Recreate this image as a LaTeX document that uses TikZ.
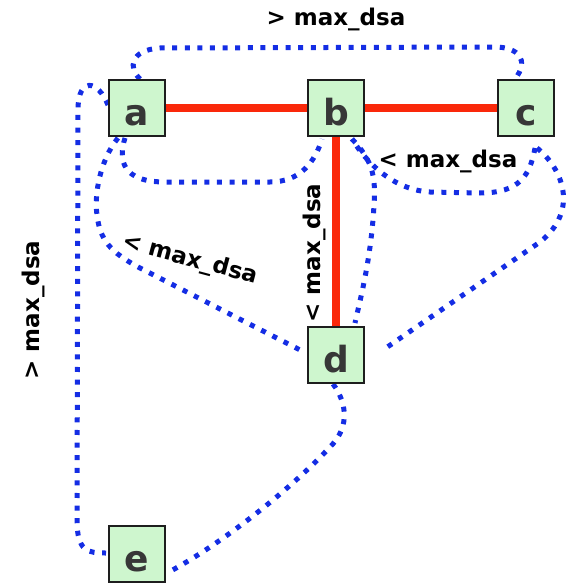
\documentclass[tikz,border=0pt]{standalone}
\usepackage{fontspec}
\setmainfont{DejaVu Sans}
\usetikzlibrary{calc}
\definecolor{boxfill}{RGB}{206,246,206}
\definecolor{boxline}{RGB}{30,30,30}
\definecolor{lettergray}{RGB}{55,55,55}
\definecolor{linkred}{RGB}{250,40,10}
\definecolor{dotblue}{RGB}{20,45,228}
\tikzset{
  vertex/.style={draw=boxline, line width=2.5pt, fill=boxfill, minimum size=56pt,
    inner sep=0pt, text height=34pt, text depth=0pt, text=lettergray,
    font=\fontsize{36}{36}\selectfont\bfseries},
  treeedge/.style={draw=linkred, line width=8pt},
  rangelink/.style={draw=dotblue, line width=5pt, line cap=butt,
    dash pattern=on 5pt off 7.6pt},
  dsalabel/.style={font=\fontsize{23}{23}\selectfont\bfseries, text=black, inner sep=0pt}
}
\begin{document}
\begin{tikzpicture}[x=1pt, y=-1pt]
\useasboundingbox (0,0) rectangle (567,583);

% stations
\coordinate (a) at (137,108);
\coordinate (b) at (336,108);
\coordinate (c) at (526,108);
\coordinate (d) at (336,355);
\coordinate (e) at (137,554);

% spanning tree edges
\path[treeedge] (a) -- (b) -- (c);
\path[treeedge] (b) -- (d);

% dotted range links
\path[rangelink] ($(a)+(3,-29)$) .. controls (128,68) and (130,50) .. (160,48)
  -- (495,47) .. controls (518,47) and (530,60) .. ($(c)+(-11,-29)$);
\path[rangelink] ($(a)+(-29,-3)$) .. controls (98,80) and (78,76) .. (78,110)
  -- (77,520) .. controls (77,552) and (88,553) .. ($(e)+(-31,-1)$);
\path[rangelink] ($(a)+(-12,30)$) .. controls (118,160) and (122,182) .. (165,182)
  -- (270,182) .. controls (300,182) and (315,162) .. ($(b)+(-14,31)$);
\path[rangelink] ($(a)+(-19,30)$) .. controls (100,160) and (94,195) .. (97,215)
  .. controls (100,240) and (110,252) .. (140,268) -- ($(d)+(-32,-3)$);
\path[rangelink] ($(b)+(16,31)$) .. controls (372,160) and (376,175) .. (374,205)
  .. controls (371,260) and (360,300) .. ($(d)+(19,-32)$);
\path[rangelink] ($(c)+(9,40)$) .. controls (530,175) and (520,193) .. (480,193)
  -- (430,192) .. controls (395,190) and (368,165) .. ($(b)+(16,31)$);
\path[rangelink] ($(c)+(11,40)$) .. controls (562,168) and (580,210) .. (540,242)
  -- ($(d)+(47,-5)$);
\path[rangelink] ($(d)+(-3,29)$) .. controls (345,400) and (352,425) .. (330,447)
  .. controls (290,490) and (220,545) .. ($(e)+(30,19)$);

% station boxes
\node[vertex] (na) at (a) {a};
\node[vertex] (nb) at (b) {b};
\node[vertex] (nc) at (c) {c};
\node[vertex] (nd) at (d) {d};
\node[vertex] (ne) at (e) {e};

% range labels
\node[dsalabel] (ltop) at (336,19) {> max\_dsa};
\node[dsalabel, rotate=90] (lleft) at (33,310) {> max\_dsa};
\node[dsalabel, rotate=-15] (ldiag) at (190,260) {< max\_dsa};
\node[dsalabel, rotate=90] (lvert) at (314,253) {< max\_dsa};
\node[dsalabel] (lright) at (448,161) {< max\_dsa};
\end{tikzpicture}
\end{document}
